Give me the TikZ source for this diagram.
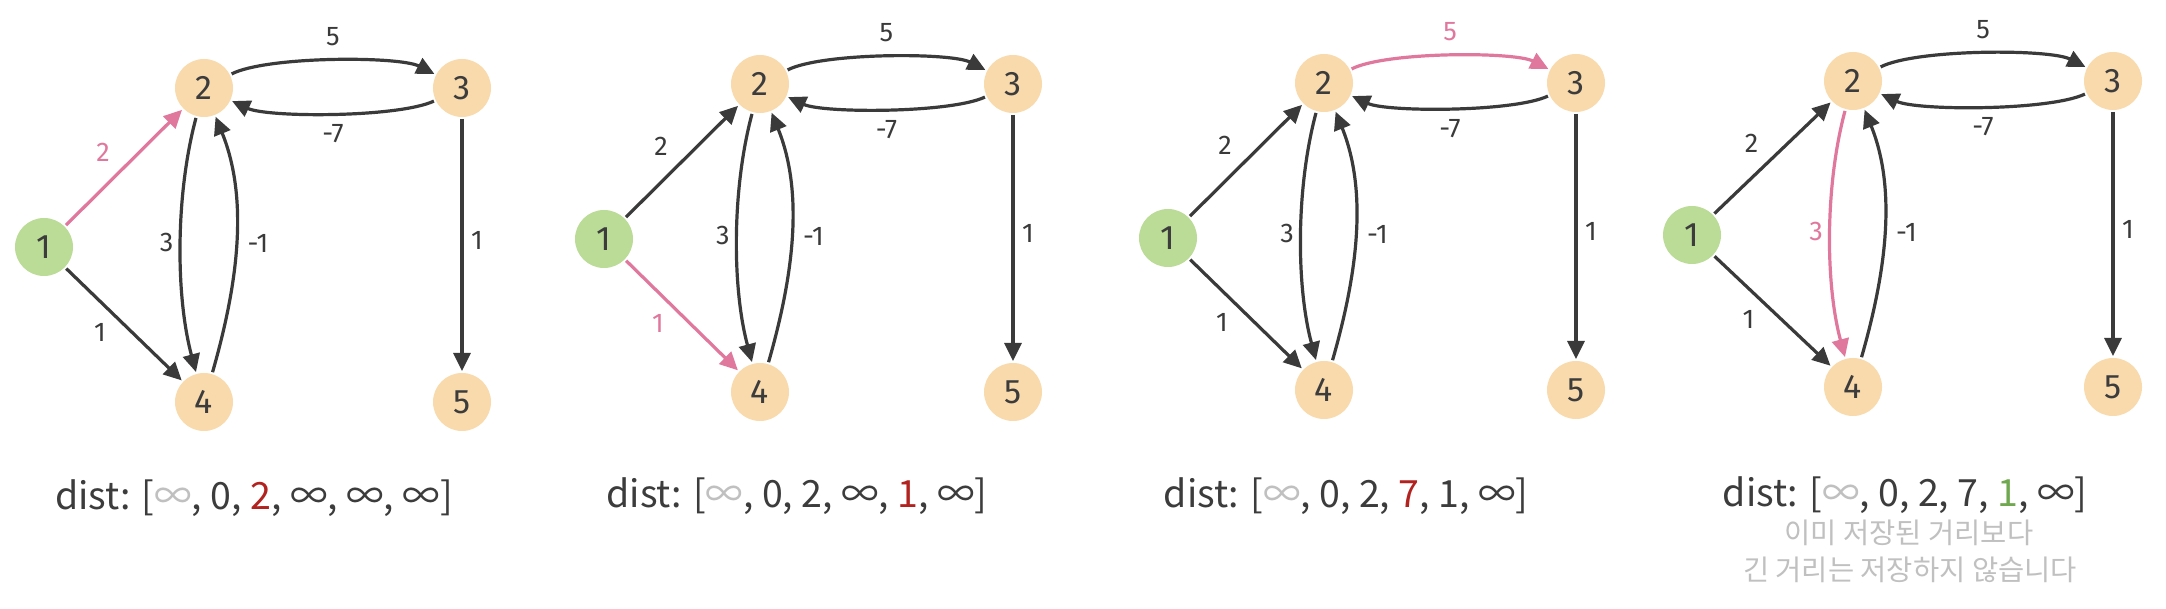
\documentclass[tikz,border=0pt]{standalone}
\usepackage{fontspec}
\newfontfamily\handfont{Fira Sans}
\newfontfamily\krfont{Noto Sans CJK KR}
\usetikzlibrary{arrows.meta}
\definecolor{cPeach}{HTML}{F9DAAC}
\definecolor{cLeaf}{HTML}{BADC96}
\definecolor{cEdge}{HTML}{3A3A3A}
\definecolor{cPink}{HTML}{E0789E}
\definecolor{cRed}{HTML}{B2221F}
\definecolor{cGreen}{HTML}{6FA84E}
\definecolor{cGray}{HTML}{C0C0C0}
\definecolor{cText}{HTML}{3C3C3C}
\tikzset{
  vtx/.style={circle, minimum size=58pt, inner sep=0pt, outer sep=2pt, fill=cPeach,
    text=cText, font=\handfont\fontsize{34}{34}\selectfont},
  srcvtx/.style={vtx, fill=cLeaf},
  arr/.style={line width=3.2pt, -{Triangle[length=18pt,width=17pt]}},
  plainE/.style={color=cEdge},
  hlE/.style={color=cPink},
  lbl/.style={font=\handfont\fontsize{27}{27}\selectfont, inner sep=0pt},
  distlbl/.style={font=\krfont\fontsize{37.5}{42}\selectfont, text=cText, inner sep=0pt, anchor=base},
  krnote/.style={font=\krfont\fontsize{28.5}{32}\selectfont, text=cGray, inner sep=0pt, anchor=base},
  e12/.style=plainE, e14/.style=plainE, e23/.style=plainE, e24/.style=plainE,
}
% #1 prefix, #2 x1, #3 y1, #4 x2, #5 x3, #6 ytop, #7 ybottom
\newcommand\mypanel[7]{%
  \node[srcvtx] (#1n1) at (#2,#3) {1};
  \node[vtx] (#1n2) at (#4,#6) {2};
  \node[vtx] (#1n3) at (#5,#6) {3};
  \node[vtx] (#1n4) at (#4,#7) {4};
  \node[vtx] (#1n5) at (#5,#7) {5};
  \draw[arr, e12] (#1n1) -- node[lbl, xshift=-21pt, yshift=15pt] {2} (#1n2);
  \draw[arr, e14] (#1n1) -- node[lbl, xshift=-24pt, yshift=-8pt] {1} (#1n4);
  \draw[arr, e23] (#1n2) to[out=27, in=153, looseness=0.5] node[lbl, yshift=24pt] {5} (#1n3);
  \draw[arr, plainE] (#1n3) to[out=-155, in=-25, looseness=0.5] node[lbl, yshift=-20pt] {-7} (#1n2);
  \draw[arr, e24] (#1n2) to[out=255, in=105, looseness=0.8] node[lbl, xshift=-14pt, yshift=3pt] {3} (#1n4);
  \draw[arr, plainE] (#1n4) to[out=74, in=-68, looseness=0.9] node[lbl, xshift=22pt] {-1} (#1n2);
  \draw[arr, plainE] (#1n3) -- node[lbl, xshift=15pt, yshift=5pt] {1} (#1n5);
}
\begin{document}
\begin{tikzpicture}[x=1pt, y=1pt]
  \useasboundingbox (0,0) rectangle (2166,608);
  \fill[white] (0,0) rectangle (2166,608);
  \begin{scope}[e12/.style=hlE]
    \mypanel{a}{44}{361}{204}{462}{520}{206}
  \end{scope}
  \begin{scope}[e14/.style=hlE]
    \mypanel{b}{604}{369}{760}{1013}{524}{216}
  \end{scope}
  \begin{scope}[e23/.style=hlE]
    \mypanel{c}{1168}{370}{1324}{1576}{525}{218}
  \end{scope}
  \begin{scope}[e24/.style=hlE]
    \mypanel{d}{1692}{373}{1853}{2113}{527}{221}
  \end{scope}
  \node[distlbl] (ad) at (254,99) {dist: [\textcolor{cGray}{∞}, 0, \textcolor{cRed}{2}, ∞, ∞, ∞]};
  \node[distlbl] (bd) at (797,100) {dist: [\textcolor{cGray}{∞}, 0, 2, ∞, \textcolor{cRed}{1}, ∞]};
  \node[distlbl] (cd) at (1346,100) {dist: [\textcolor{cGray}{∞}, 0, 2, \textcolor{cRed}{7}, 1, ∞]};
  \node[distlbl] (dd) at (1905,101) {dist: [\textcolor{cGray}{∞}, 0, 2, 7, \textcolor{cGreen}{1}, ∞]};
  \node[krnote] (dk1) at (1909,64) {이미 저장된 거리보다};
  \node[krnote] (dk2) at (1910,28) {긴 거리는 저장하지 않습니다};
\end{tikzpicture}
\end{document}
